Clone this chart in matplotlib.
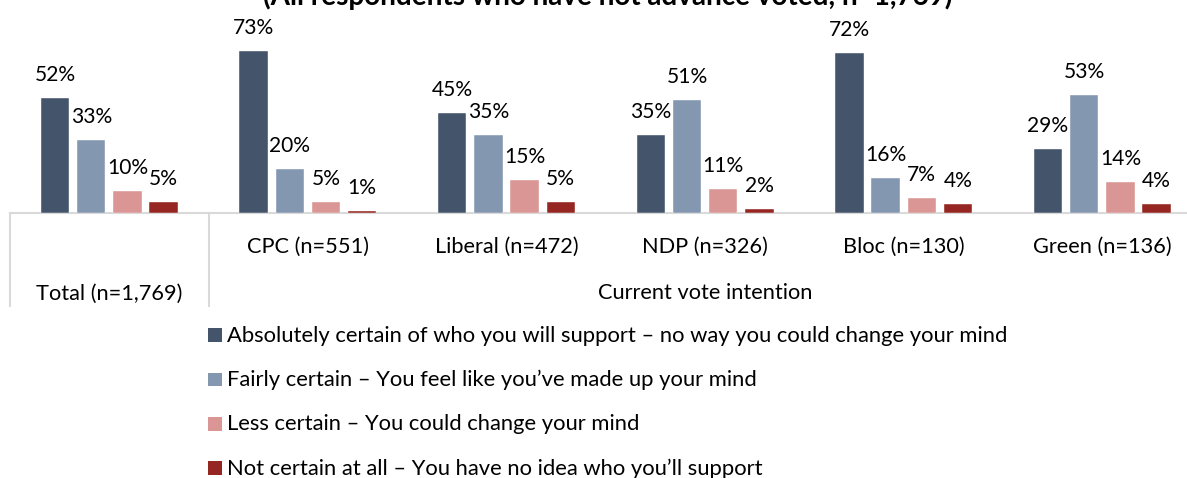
import matplotlib
matplotlib.use("Agg")
import matplotlib.pyplot as plt
from matplotlib.patches import Rectangle

# ---------------- data ----------------
categories = ["Total (n=1,769)", "CPC (n=551)", "Liberal (n=472)",
              "NDP (n=326)", "Bloc (n=130)", "Green (n=136)"]
group_label = "Current vote intention"
title = "(All respondents who have not advance voted, n=1,769)"
series_names = [
    "Absolutely certain of who you will support \u2013 no way you could change your mind",
    "Fairly certain \u2013 You feel like you\u2019ve made up your mind",
    "Less certain \u2013 You could change your mind",
    "Not certain at all \u2013 You have no idea who you\u2019ll support",
]
absolutely_certain = [52, 73, 45, 35, 72, 29]
fairly_certain = [33, 20, 35, 51, 16, 53]
less_certain = [10, 5, 15, 11, 7, 14]
not_certain = [5, 1, 5, 2, 4, 4]
series_values = [absolutely_certain, fairly_certain, less_certain, not_certain]
colors = ["#44546A", "#8497B0", "#DA9694", "#962622"]

# ---------------- layout ----------------
W, H = 1187, 478
FAM = ["Lato", "DejaVu Sans"]
TXT = "#000000"
fig = plt.figure(figsize=(W / 100, H / 100), dpi=100)
renderer = fig.canvas.get_renderer()


def fit(text, target_px, **kw):
    t = fig.text(0, 0, text, fontsize=20, family=FAM, **kw)
    w = t.get_window_extent(renderer).width
    t.remove()
    return 20 * target_px / w


base_y = 213.3            # pixel row of the baseline
px_per_pct = 2.225
left_px = 10
group_px = 198.6

ax = fig.add_axes([left_px / W, 1 - base_y / H, (W - left_px) / W, base_y / H])
ax.set_ylim(0, base_y / px_per_pct)
ax.set_xlim(-0.5, -0.5 + (W - left_px) / group_px)
for s in ["top", "right", "left"]:
    ax.spines[s].set_visible(False)
ax.spines["bottom"].set_color("#D9D9D9")
ax.spines["bottom"].set_linewidth(1.5)
ax.spines["bottom"].set_zorder(0.5)
ax.set_xticks([])
ax.set_yticks([])

label_fs = fit("52%", 41)
cat_fs = fit(group_label, 216)
leg_fs = fit(series_names[0], 784)
title_fs = fit(title, 690, weight="bold")

bar_w = 28.5 / group_px
step = 36.2 / group_px
offsets = [-1.5 * step, -0.5 * step, 0.5 * step, 1.5 * step]
x = list(range(len(categories)))

for vals, off, col in zip(series_values, offsets, colors):
    xs = [xi + off for xi in x]
    ax.bar(xs, vals, width=bar_w, color=col, edgecolor="white", linewidth=0.3,
           zorder=2)
    for xi, v in zip(xs, vals):
        ax.annotate(f"{v}%", (xi, v), xytext=(0, 17 * 0.72), textcoords="offset points",
                    ha="center", va="baseline", fontsize=label_fs, family=FAM,
                    color=TXT, annotation_clip=False)

# category table below the axis
tr = ax.get_xaxis_transform()


def ay(py):
    return (base_y - py) / base_y


for xv in [-0.5, 0.5]:
    ax.plot([xv, xv], [0, ay(306)], transform=tr, color="#D9D9D9", lw=1.5,
            clip_on=False)
for i, c in enumerate(categories):
    if i == 0:
        ax.text(0, ay(299.5), c, transform=tr, ha="center", va="baseline",
                fontsize=cat_fs, family=FAM, color=TXT)
    else:
        ax.text(i, ay(253), c, transform=tr, ha="center", va="baseline",
                fontsize=cat_fs, family=FAM, color=TXT)
ax.text((0.5 + 5.5) / 2, ay(299.5), group_label, transform=tr, ha="center",
        va="baseline", fontsize=cat_fs, family=FAM, color=TXT)

# title (cut off at the top edge, as in the reference)
fig.text(608 / W, 1 - 5 / H, title, ha="center", va="baseline",
         fontsize=title_fs, weight="bold", family=FAM, color=TXT)

# legend
for i, (name, col) in enumerate(zip(series_names, colors)):
    bl = 341.7 + i * 44.4
    fig.patches.append(Rectangle((208 / W, 1 - bl / H), 14 / W, 13.5 / H,
                                 transform=fig.transFigure, facecolor=col,
                                 edgecolor="none"))
    fig.text(227 / W, 1 - bl / H, name, ha="left", va="baseline",
             fontsize=leg_fs, family=FAM, color=TXT)

fig.savefig("out.png", dpi=100)
